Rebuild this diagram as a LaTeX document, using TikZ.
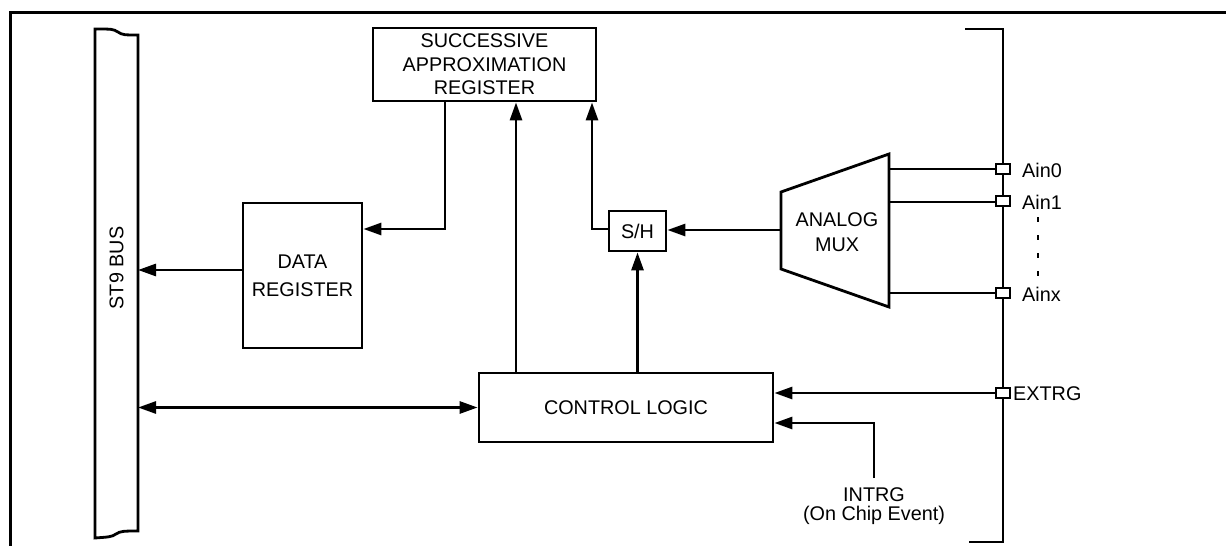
\documentclass[tikz,border=0pt]{standalone}
\usepackage{fontspec}
\setmainfont{Liberation Sans}
\usetikzlibrary{arrows.meta}
\tikzset{
  ln/.style={line width=2.8pt},
  boxnode/.style={draw, ln, rectangle, inner sep=0pt, align=center, fill=white},
  arr/.style={ln, -{Triangle[length=18pt,width=12pt]}},
  darr/.style={ln, {Triangle[length=18pt,width=12pt]}-{Triangle[length=18pt,width=12pt]}},
  pin/.style={draw, ln, fill=white, rectangle, minimum width=14pt, minimum height=10pt, inner sep=0pt},
  lbl/.style={inner sep=0pt, anchor=west},
  txt/.style={font=\fontsize{19.8}{23.5}\selectfont}
}
\begin{document}
\begin{tikzpicture}[x=1pt,y=-1pt, txt]
\useasboundingbox (0,0) rectangle (1226,546);
% outer frame
\draw[line width=3pt] (10,546) -- (10,12) -- (1226,12);
% ST9 bus
\draw[ln] (95,538) -- (95,29) .. controls (112,29) and (113,29) .. (118,32) .. controls (122,35) and (125,35) .. (138,35) -- (138,531)
  .. controls (125,531) and (120,531) .. (116,534) .. controls (112,537) and (108,537) .. cycle;
\node[rotate=90, inner sep=0pt] (bus) at (116.5,268) {ST9 BUS};
\coordinate (busR) at (138,0);
% boxes
\node[boxnode, minimum width=223pt, minimum height=73pt, font=\fontsize{19.8}{23.5}\selectfont] (sar) at (484.5,64.5) {SUCCESSIVE\\APPROXIMATION\\REGISTER};
\node[boxnode, minimum width=119pt, minimum height=145pt, font=\fontsize{19.8}{28}\selectfont] (dr) at (302.5,275.5) {DATA\\REGISTER};
\node[boxnode, minimum width=57pt, minimum height=40pt] (sh) at (637.5,231) {S/H};
\node[boxnode, minimum width=294pt, minimum height=69pt] (cl) at (626,407.5) {CONTROL LOGIC};
% analog mux
\draw[ln] (781,192) -- (889,154) -- (889,307) -- (781,269) -- cycle;
\node[align=center, inner sep=0pt, font=\fontsize{19.8}{25}\selectfont] (mux) at (837,232) {ANALOG\\MUX};
\coordinate (muxL) at (781,230);
\coordinate (muxR) at (889,0);
% right bracket
\draw[ln] (965,29) -- (1003,29) -- (1003,542) -- (969,542);
% pins
\node[pin] (p0) at (1003,169) {};
\node[pin] (p1) at (1003,201) {};
\node[pin] (px) at (1003,293) {};
\node[pin] (pe) at (1003,393) {};
\node[lbl] (l0) at (1022,170) {Ain0};
\node[lbl] (l1) at (1022,202) {Ain1};
\node[lbl] (lx) at (1022,294) {Ainx};
\node[lbl] (le) at (1013,394) {EXTRG};
\draw[line width=2.4pt, dash pattern=on 5pt off 13pt] (1038,217) -- (1038,277);
% INTRG
\node[align=center, inner sep=0pt, font=\fontsize{19.8}{19}\selectfont] (intrg) at (874,506) {INTRG\\(On Chip Event)};
% connectors
\draw[arr] (sar.south -| 445,0) |- (dr.east |- 0,229);
\draw[arr] (dr.west |- 0,270) -- (busR |- 0,270);
\draw[darr] (busR |- cl.west) -- (cl.west);
\draw[arr] (cl.north -| 516,0) -- (sar.south -| 516,0);
\draw[arr] (cl.north -| sh.south) -- (sh.south);
\draw[arr] (sh.west |- 0,229) -| (sar.south -| 592,0);
\draw[arr] (muxL) -- (sh.east |- muxL);
\draw[ln] (muxR |- p0) -- (p0.west);
\draw[ln] (muxR |- 0,202) -- (p1.west |- 0,202);
\draw[ln] (muxR |- px) -- (px.west);
\draw[arr] (pe.west) -- (cl.east |- pe.west);
\draw[arr] (intrg.north |- 0,478) |- (cl.east |- 0,423);
\end{tikzpicture}
\end{document}
